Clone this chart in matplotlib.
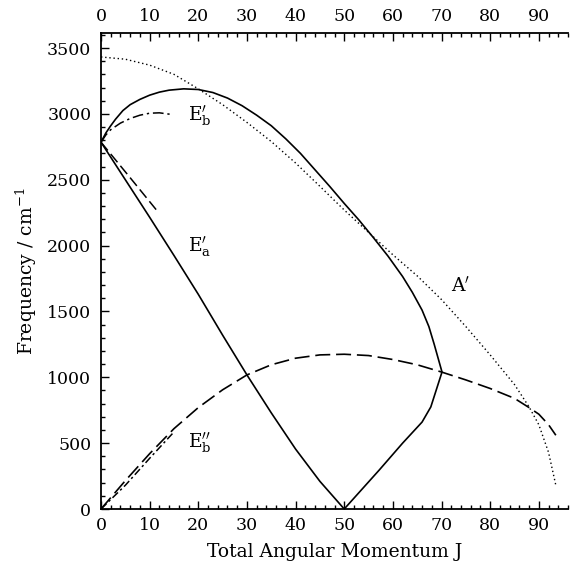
import numpy as np
import matplotlib
matplotlib.use("Agg")
import matplotlib.pyplot as plt
from matplotlib.ticker import MultipleLocator

plt.rcParams['font.family'] = ['DejaVu Serif']
plt.rcParams['mathtext.fontset'] = 'dejavuserif'

# A' (dotted)
J_A = [0, 5, 10, 15, 20, 25, 30, 35, 40, 45, 50, 55, 60, 65, 70, 75, 80, 85, 88, 90, 92, 93.5]
F_A = [3432, 3415, 3370, 3300, 3190, 3070, 2935, 2790, 2627, 2450, 2270, 2100, 1930, 1770, 1590, 1385, 1170, 945, 775, 640, 430, 180]

# solid arch (upper branch), cusp near J=70, lower branch back to zero at J=50
J_arch = [0, 1, 2, 3, 4.5, 6, 8, 10, 12, 14, 17, 20, 23, 26, 29, 32, 35, 38, 41, 44, 47, 50,
          53, 56, 59, 62, 64, 66, 67.4, 68.5, 70.1, 67.8, 66, 62, 57.2, 50]
F_arch = [2785, 2855, 2910, 2960, 3025, 3070, 3110, 3142, 3165, 3180, 3190, 3185, 3162, 3120,
          3062, 2990, 2910, 2810, 2700, 2575, 2450, 2320, 2195, 2060, 1920, 1765, 1645, 1510,
          1385, 1250, 1040, 775, 660, 500, 296, 0]

# solid line from J=0 down to zero at J=50
J_lin = [0, 5, 10, 15, 20, 25, 30, 35, 40, 45, 50]
F_lin = [2785, 2500, 2215, 1925, 1630, 1320, 1018, 730, 455, 210, 0]

# E'b dash-dot
J_eb1 = [0, 1, 2, 4, 6, 8, 10, 12, 14, 14.8]
F_eb1 = [2785, 2840, 2880, 2930, 2965, 2990, 3005, 3008, 2998, 2993]

# short dashed from J=0
J_sd = [0, 6, 11.4]
F_sd = [2785, 2515, 2270]

# E''b long dashed
J_eb2 = [0, 5, 10, 15, 20, 25, 30, 35, 40, 45, 50, 55, 60, 65, 70, 75, 80, 85, 88, 90, 92, 93.5]
F_eb2 = [0, 215, 420, 610, 770, 905, 1018, 1095, 1145, 1170, 1175, 1165, 1135, 1095, 1040, 980, 915, 840, 770, 720, 640, 560]

# E''b dash-dot near origin
J_eb3 = [0, 5, 10, 14.8]
F_eb3 = [0, 180, 385, 577]

fig = plt.figure(figsize=(5.70, 5.69), dpi=100)
ax = fig.add_axes([101/570, 1-509/569, 467/570, 476/569])

ax.plot(J_A, F_A, color='black', lw=1.0, linestyle=(0, (1, 2)))
ax.plot(J_arch, F_arch, color='black', lw=1.2)
ax.plot(J_lin, F_lin, color='black', lw=1.2)
ax.plot(J_eb1, F_eb1, color='black', lw=1.1, linestyle=(0, (7, 2.5, 1.5, 2.5)))
ax.plot(J_sd, F_sd, color='black', lw=1.1, linestyle=(0, (7, 3)))
ax.plot(J_eb2, F_eb2, color='black', lw=1.2, linestyle=(0, (9, 3.5)))
ax.plot(J_eb3, F_eb3, color='black', lw=1.1, linestyle=(0, (5, 2, 1.5, 2)))

ax.text(20.3, 2985, r"E$^{\prime}_{\mathrm{b}}$", fontsize=13.5, ha='center', va='center')
ax.text(20.3, 1990, r"E$^{\prime}_{\mathrm{a}}$", fontsize=13.5, ha='center', va='center')
ax.text(20.3, 500, r"E$^{\prime\prime}_{\mathrm{b}}$", fontsize=13.5, ha='center', va='center')
ax.text(74, 1690, r"A$^{\prime}$", fontsize=13.5, ha='center', va='center')

ax.set_xlim(0, 96)
ax.set_ylim(0, 3614)
ax.xaxis.set_major_locator(MultipleLocator(10))
ax.xaxis.set_minor_locator(MultipleLocator(2))
ax.yaxis.set_major_locator(MultipleLocator(500))
ax.yaxis.set_minor_locator(MultipleLocator(100))
ax.tick_params(which='both', direction='in', top=True, labeltop=True, labelsize=12.5, width=1.0)
ax.tick_params(which='major', length=6)
ax.tick_params(which='minor', length=3)
ax.tick_params(axis='y', which='both', right=False, pad=7)
ax.tick_params(axis='x', which='both', pad=6)
for side in ['left', 'bottom', 'top']:
    ax.spines[side].set_linewidth(1.3)
ax.spines['right'].set_visible(False)

ax.set_xlabel('Total Angular Momentum J', fontsize=13.5, labelpad=6)
ax.set_ylabel(r'Frequency / cm$^{\mathrm{-1}}$', fontsize=13.5, labelpad=6)

fig.savefig('out.png', dpi=100)
